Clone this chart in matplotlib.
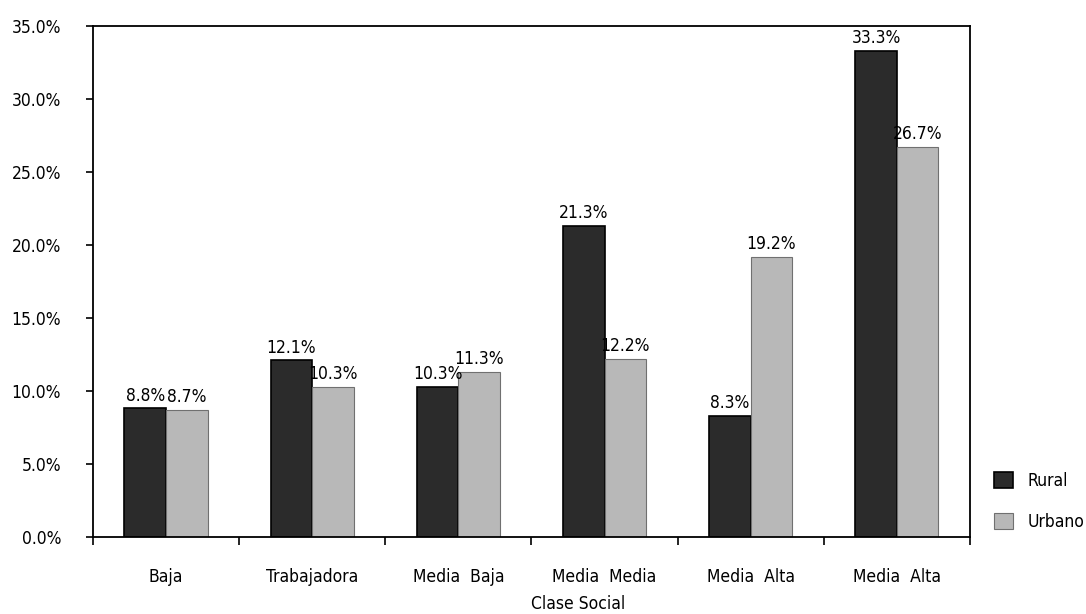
import numpy as np
import matplotlib.pyplot as plt
from matplotlib.ticker import FuncFormatter

categorias = ['Baja', 'Trabajadora', 'Media  Baja', 'Media  Media', 'Media  Alta', 'Media  Alta']
rural = [8.8, 12.1, 10.3, 21.3, 8.3, 33.3]
urbano = [8.7, 10.3, 11.3, 12.2, 19.2, 26.7]

plt.rcParams['font.family'] = ['DejaVu Sans']
plt.rcParams['font.stretch'] = 'condensed'

fig = plt.figure(figsize=(10.86, 6.14), dpi=100)
ax = fig.add_axes([0.0856, 0.1254, 0.8075, 0.8326])

x = np.arange(len(categorias))
w = 0.285
ax.bar(x - w/2, rural, w, color='#2b2b2b', edgecolor='black', linewidth=1.2, label='Rural')
ax.bar(x + w/2, urbano, w, color='#b8b8b8', edgecolor='#707070', linewidth=0.8, label='Urbano')

for i in range(len(x)):
    ax.text(x[i] - w/2, rural[i] + 0.25, '%.1f%%' % rural[i], ha='center', va='bottom', fontsize=12.5)
    ax.text(x[i] + w/2, urbano[i] + 0.25, '%.1f%%' % urbano[i], ha='center', va='bottom', fontsize=12.5)

ax.set_xlim(-0.5, len(x) - 0.5)
ax.set_ylim(0, 35)
ax.set_yticks(np.arange(0, 36, 5))
ax.yaxis.set_major_formatter(FuncFormatter(lambda v, p: '%.1f%%' % v))
ax.set_xticks(x)
ax.set_xticklabels(categorias, fontsize=12.5)
ax.set_xticks(np.arange(-0.5, len(x), 1), minor=True)
ax.tick_params(axis='x', which='major', length=0, pad=22)
ax.tick_params(axis='x', which='minor', length=6, width=1.2, direction='out')
ax.tick_params(axis='y', length=5, width=1.2, labelsize=12.5, pad=18)
for s in ax.spines.values():
    s.set_linewidth(1.3)

# etiqueta del eje x
fig.text(0.532, 0.016, 'Clase Social', ha='center', va='center', fontsize=12.5)

ax.legend(loc='center left', bbox_to_anchor=(1.01, 0.07), frameon=False, fontsize=12.5,
          handlelength=1.1, handleheight=1.1, labelspacing=1.3)

plt.savefig('out.png', dpi=100)
